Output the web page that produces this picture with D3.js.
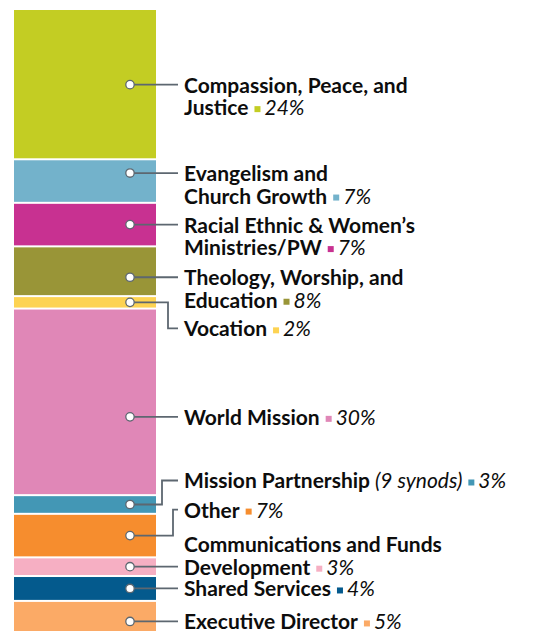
<!DOCTYPE html>
<html>
<meta charset="utf-8">
<style>
body { margin: 0; background: #fff; }
svg { display: block; }
.name { font: bold 21px Lato, sans-serif; fill: #0d0d0d; }
.pct { font-style: italic; font-weight: normal; }
</style>
<body>
<svg id="chart" width="543" height="632"></svg>
<script src="https://d3js.org/d3.v7.min.js"></script>
<script>
// data
var categories = ["Compassion, Peace, and Justice", "Evangelism and Church Growth",
	"Racial Ethnic & Women\u2019s Ministries/PW", "Theology, Worship, and Education", "Vocation",
	"World Mission", "Mission Partnership", "Other", "Communications and Funds Development",
	"Shared Services", "Executive Director"];
var shares = [24, 7, 7, 8, 2, 30, 3, 7, 3, 4, 5];
var notes = ["", "", "", "", "", "", "(9 synods)", "", "", "", ""];
var labelLines = [
	["Compassion, Peace, and", "Justice"],
	["Evangelism and", "Church Growth"],
	["Racial Ethnic & Women\u2019s", "Ministries/PW"],
	["Theology, Worship, and", "Education"],
	["Vocation"],
	["World Mission"],
	["Mission Partnership"],
	["Other"],
	["Communications and Funds", "Development"],
	["Shared Services"],
	["Executive Director"]
];
var colors = ["#c3cd23", "#73b2cb", "#c83191", "#999537", "#fdd352", "#e087b7",
	"#4397b5", "#f68d2e", "#f6afc3", "#045a8d", "#fbaa66"];

// label layout tweaks (px)
var dotNudge = [0, -8, 0, 6, 0, 15, 0, 0, 0, 0, 5];
var labelShift = [0, 0, 0, 0, 26, 0, -24, -26, 0, 0, 0];
var elbowX = [0, 0, 0, 0, 168, 0, 162, 173, 0, 0, 0];
var anchorLine = [0, 0, 0, 0, 0, 0, 0, 0, 1, 0, 0];

var barX = 14, barW = 142, dotX = 130, lineEnd = 178, textX = 184, lineH = 22.5;

var svg = d3.select("#chart");

var stack = [];
var acc = 0;
shares.forEach(function(v, i) {
	stack.push({i: i, y0: acc, y1: acc + v});
	acc += v;
});

var y = d3.scaleLinear().domain([0, d3.sum(shares)]).range([10, 632]);

svg.append("g").selectAll("rect")
	.data(stack)
	.enter().append("rect")
	.attr("x", barX)
	.attr("width", barW)
	.attr("y", function(d) { return y(d.y0) + (d.i ? 1 : 0); })
	.attr("height", function(d) { return y(d.y1) - y(d.y0) - (d.i ? 1 : 0) - 1; })
	.attr("fill", function(d) { return colors[d.i]; });

var lab = svg.append("g");

stack.forEach(function(d) {
	var i = d.i;
	var cy = (y(d.y0) + y(d.y1)) / 2 + dotNudge[i];
	var ly = cy + labelShift[i];

	var path;
	if (labelShift[i]) {
		path = "M" + dotX + "," + cy + "H" + elbowX[i] + "V" + ly + "H" + lineEnd;
	} else {
		path = "M" + dotX + "," + cy + "H" + lineEnd;
	}
	lab.append("path")
		.attr("d", path)
		.attr("fill", "none")
		.attr("stroke", "#5d6770")
		.attr("stroke-width", 1.8);

	lab.append("circle")
		.attr("cx", dotX)
		.attr("cy", cy)
		.attr("r", 4.2)
		.attr("fill", "#fff")
		.attr("stroke", "#5d6770")
		.attr("stroke-width", 1.3);

	// one text per label, lines as tspans
	var lines = labelLines[i];
	var base0 = ly + 8 - anchorLine[i] * lineH;
	var lastY = base0 + (lines.length - 1) * lineH;
	var tx = lab.append("text").attr("class", "name");
	var w = 0;
	lines.forEach(function(t, k) {
		var ts = tx.append("tspan")
			.attr("x", textX)
			.attr("y", base0 + k * lineH)
			.text(t);
		if (k == lines.length - 1) {
			w = ts.node().getComputedTextLength();
			if (notes[i]) {
				var nt = tx.append("tspan").attr("class", "pct").text(" " + notes[i]);
				w += nt.node().getComputedTextLength();
			}
		}
	});
	var sx = textX + w + 6;
	lab.append("rect")
		.attr("x", sx)
		.attr("y", lastY - 9)
		.attr("width", 6)
		.attr("height", 6)
		.attr("fill", colors[i]);
	tx.append("tspan")
		.attr("class", "pct")
		.attr("x", sx + 10)
		.attr("y", lastY)
		.text(shares[i] + "%");
});
</script>
</body>
</html>
